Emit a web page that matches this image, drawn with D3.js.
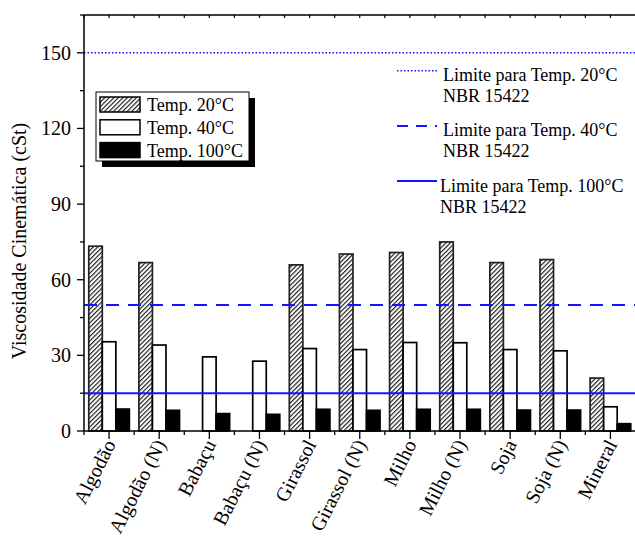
<!DOCTYPE html>
<html>
<head>
<meta charset="utf-8">
<script src="https://cdn.jsdelivr.net/npm/d3@7"></script>
<style>
  body { margin: 0; background: #fff; }
  svg { display: block; }
  text { font-family: "Liberation Serif", "Times New Roman", serif; fill: #000; }
</style>
</head>
<body>
<script>
var categories = ["Algodão", "Algodão (N)", "Babaçu", "Babaçu (N)", "Girassol", "Girassol (N)",
                  "Milho", "Milho (N)", "Soja", "Soja (N)", "Mineral"];
var temp20 = [73.3, 66.8, null, null, 65.9, 70.2, 70.8, 75.0, 66.8, 68.0, 21.0];
var temp40 = [35.4, 34.1, 29.4, 27.7, 32.7, 32.3, 35.1, 35.0, 32.3, 31.8, 9.6];
var temp100 = [8.7, 8.2, 6.9, 6.6, 8.6, 8.2, 8.6, 8.6, 8.3, 8.3, 2.9];
var seriesNames = ["Temp. 20°C", "Temp. 40°C", "Temp. 100°C"];
var limits = [150, 50, 15];
var limitLabels = ["Limite para Temp. 20°C", "Limite para Temp. 40°C", "Limite para Temp. 100°C"];
var yTicks = [0, 30, 60, 90, 120, 150];

var width = 635, height = 536;
var mLeft = 84, mRight = 635.5, mTop = 15, mBottom = 431;

var svg = d3.select("body").append("svg")
    .attr("width", width)
    .attr("height", height);

var defs = svg.append("defs");
defs.append("pattern")
    .attr("id", "hatch")
    .attr("patternUnits", "userSpaceOnUse")
    .attr("width", 3.2)
    .attr("height", 3.2)
    .attr("patternTransform", "rotate(45)")
    .call(function(p) {
        p.append("rect").attr("width", 3.2).attr("height", 3.2).attr("fill", "#fff");
        p.append("line").attr("x1", 0.6).attr("y1", 0).attr("x2", 0.6).attr("y2", 3.2)
            .attr("stroke", "#111").attr("stroke-width", 1.1);
    });

var x = d3.scaleBand().domain(categories).range([mLeft, mRight]);
var sub = d3.scaleBand().domain([0, 1, 2]).range([-20.3, 20.3]);
var y = d3.scaleLinear().domain([0, 165]).range([mBottom, mTop]);

var fills = ["url(#hatch)", "#fff", "#000"];
var strokes = ["#222", "#000", "#000"];
var series = [temp20, temp40, temp100];

// bars
series.forEach(function(vals, si) {
    svg.append("g").selectAll("rect")
        .data(vals.map(function(v, i) { return { c: categories[i], v: v }; })
            .filter(function(d) { return d.v != null; }))
        .enter().append("rect")
        .attr("x", function(d) { return x(d.c) + x.bandwidth() / 2 + sub(si); })
        .attr("y", function(d) { return y(d.v); })
        .attr("width", sub.bandwidth())
        .attr("height", function(d) { return y(0) - y(d.v); })
        .attr("fill", fills[si])
        .attr("stroke", strokes[si])
        .attr("stroke-width", 1.7);
});

// limit lines
var dashes = ["1.5,2", "13,9", null];
var lineW = [1.5, 2, 2];
limits.forEach(function(v, i) {
    svg.append("line")
        .attr("x1", mLeft).attr("x2", width)
        .attr("y1", y(v)).attr("y2", y(v))
        .attr("stroke", "#1414ff")
        .attr("stroke-width", lineW[i])
        .attr("stroke-dasharray", dashes[i]);
});

// axes
var yAxis = svg.append("g").attr("transform", "translate(" + mLeft + ",0)");
yAxis.append("line").attr("x1", 0).attr("x2", 0).attr("y1", mTop).attr("y2", mBottom)
    .attr("stroke", "#000").attr("stroke-width", 1.5);
d3.range(0, 166, 15).forEach(function(v) {
    var major = v % 30 === 0;
    yAxis.append("line").attr("x1", major ? -7 : -4).attr("x2", 0)
        .attr("y1", y(v)).attr("y2", y(v))
        .attr("stroke", "#000").attr("stroke-width", 1.3);
});
yAxis.selectAll("text.tick").data(yTicks).enter().append("text")
    .attr("x", -13)
    .attr("y", function(d) { return y(d); })
    .attr("dy", "0.35em")
    .attr("text-anchor", "end")
    .attr("font-size", 20)
    .text(function(d) { return d; });

svg.append("text")
    .attr("transform", "translate(26," + 241 + ") rotate(-90)")
    .attr("text-anchor", "middle")
    .attr("font-size", 20)
    .text("Viscosidade Cinemática (cSt)");

// bottom axis
var xAxis = svg.append("g");
xAxis.append("line").attr("x1", mLeft).attr("x2", width).attr("y1", mBottom).attr("y2", mBottom)
    .attr("stroke", "#000").attr("stroke-width", 1.5);
categories.forEach(function(c) {
    var cx = x(c) + x.bandwidth() / 2;
    xAxis.append("line").attr("x1", cx).attr("x2", cx).attr("y1", mBottom).attr("y2", mBottom + 8)
        .attr("stroke", "#000").attr("stroke-width", 1.3);
    xAxis.append("line").attr("x1", x(c)).attr("x2", x(c)).attr("y1", mBottom).attr("y2", mBottom + 4)
        .attr("stroke", "#000").attr("stroke-width", 1.3);
    xAxis.append("text")
        .attr("transform", "translate(" + (cx + 1) + "," + (mBottom + 10) + ") rotate(-63)")
        .attr("text-anchor", "end")
        .attr("dy", "0.35em")
        .attr("font-size", 20)
        .text(c);
});

// top axis
var tAxis = svg.append("g");
tAxis.append("line").attr("x1", mLeft).attr("x2", width).attr("y1", mTop).attr("y2", mTop)
    .attr("stroke", "#000").attr("stroke-width", 1.5);
categories.forEach(function(c) {
    [x(c), x(c) + x.bandwidth() / 2].forEach(function(px) {
        tAxis.append("line").attr("x1", px).attr("x2", px).attr("y1", mTop).attr("y2", mTop + 3)
            .attr("stroke", "#000").attr("stroke-width", 1.2);
    });
});

// series legend
var lg = svg.append("g").attr("transform", "translate(96,92)");
lg.append("rect").attr("x", 6).attr("y", 6).attr("width", 153).attr("height", 69).attr("fill", "#000");
lg.append("rect").attr("x", 0).attr("y", 0).attr("width", 153).attr("height", 69)
    .attr("fill", "#fff").attr("stroke", "#000").attr("stroke-width", 1);
seriesNames.forEach(function(n, i) {
    lg.append("rect")
        .attr("x", 4).attr("y", 5 + i * 22.8)
        .attr("width", 40).attr("height", 15)
        .attr("fill", fills[i])
        .attr("stroke", "#000").attr("stroke-width", 1.5);
    lg.append("text")
        .attr("x", 51).attr("y", 19 + i * 22.8)
        .attr("font-size", 18)
        .text(n);
});

// limits legend
var ll = svg.append("g");
limitLabels.forEach(function(n, i) {
    var ly = 70.7 + i * 55.2;
    ll.append("line")
        .attr("x1", 397).attr("x2", 437)
        .attr("y1", ly).attr("y2", ly)
        .attr("stroke", "#1414ff")
        .attr("stroke-width", lineW[i])
        .attr("stroke-dasharray", i === 1 ? "11,8" : dashes[i]);
    var tx = i === 2 ? 440 : 443;
    ll.append("text").attr("x", tx).attr("y", ly + 10.5).attr("font-size", 18).text(n);
    ll.append("text").attr("x", tx).attr("y", ly + 31.5).attr("font-size", 18).text("NBR 15422");
});
</script>
</body>
</html>
